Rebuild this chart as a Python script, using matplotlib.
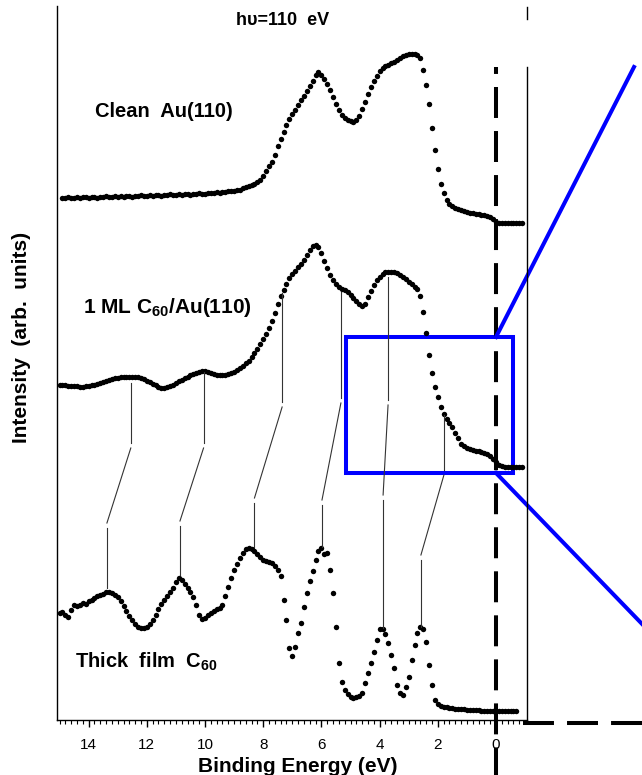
import numpy as np
import matplotlib
matplotlib.use("Agg")
import matplotlib.pyplot as plt
from matplotlib.patches import Rectangle
from matplotlib.ticker import MultipleLocator

plt.rcParams["font.family"] = ["Liberation Sans", "DejaVu Sans"]
plt.rcParams["mathtext.fontset"] = "custom"
plt.rcParams["mathtext.rm"] = "Liberation Sans:bold"
plt.rcParams["mathtext.it"] = "Liberation Sans:bold"
plt.rcParams["mathtext.bf"] = "Liberation Sans:bold"
plt.rcParams["lines.scale_dashes"] = False

# valence band spectra, one point every 0.1 eV of binding energy
energy_clean = np.round(np.arange(14.9, -0.95, -0.1), 1)
energy_ml = np.round(np.arange(15.0, -0.95, -0.1), 1)
energy_thick = np.round(np.arange(15.0, -0.75, -0.1), 1)

intensity_clean = [
    522, 522, 523, 522, 522, 523, 522, 523, 523, 522,
    523, 523, 522, 523, 523, 524, 523, 523, 524, 523,
    524, 523, 524, 524, 523, 524, 524, 525, 524, 524,
    525, 524, 525, 525, 524, 525, 525, 526, 525, 525,
    526, 525, 526, 526, 525, 526, 526, 527, 526, 526,
    527, 527, 527, 528, 527, 528, 528, 529, 529, 529,
    530, 530, 532, 533, 534, 535, 536, 538, 540, 544,
    549, 554, 558, 565, 574, 581, 588, 595, 601, 606,
    610, 615, 620, 624, 629, 634, 639, 645, 648, 645,
    641, 636, 630, 623, 616, 610, 605, 602, 600, 599,
    598, 600, 604, 611, 618, 626, 633, 639, 644, 649,
    652, 654, 655, 657, 658, 660, 662, 664, 665, 666,
    666, 666, 665, 662, 650, 635, 616, 592, 570, 551,
    536, 527, 520, 516, 514, 512, 511, 510, 509, 508,
    507, 507, 506, 506, 505, 505, 504, 503, 501, 498,
    497, 497, 497, 497, 497, 497, 497, 497, 497,
]

intensity_ml = [
    335, 335, 335, 334, 334, 334, 334, 333, 333, 334,
    334, 335, 335, 336, 337, 338, 339, 340, 341, 342,
    342, 343, 343, 343, 343, 343, 343, 343, 342, 341,
    339, 338, 336, 335, 333, 332, 332, 333, 334, 335,
    337, 339, 340, 342, 343, 345, 346, 347, 348, 349,
    349, 348, 347, 346, 345, 345, 345, 345, 346, 347,
    348, 350, 352, 354, 357, 359, 363, 367, 371, 376,
    381, 386, 392, 399, 407, 416, 424, 430, 436, 442,
    446, 449, 453, 456, 460, 465, 470, 474, 475, 473,
    467, 459, 452, 445, 440, 436, 433, 431, 430, 428,
    425, 422, 419, 416, 414, 416, 423, 429, 435, 440,
    443, 446, 448, 448, 448, 448, 447, 445, 443, 441,
    438, 436, 433, 431, 424, 408, 387, 365, 347, 333,
    323, 313, 306, 301, 297, 293, 287, 282, 276, 274,
    272, 271, 270, 269, 269, 268, 267, 266, 264, 261,
    258, 255, 254, 253, 253, 253, 253, 253, 253, 253,
]

intensity_thick = [
    107, 108, 105, 103, 110, 115, 114, 115, 117, 116,
    119, 120, 122, 124, 125, 126, 128, 128, 127, 125,
    123, 119, 114, 109, 104, 100, 96, 93, 92, 92,
    93, 96, 100, 105, 111, 116, 120, 124, 128, 132,
    138, 142, 140, 136, 132, 128, 123, 115, 105, 101,
    102, 105, 107, 109, 111, 112, 115, 124, 133, 142,
    150, 156, 162, 167, 171, 172, 171, 169, 166, 163,
    160, 159, 158, 157, 154, 150, 144, 120, 100, 72,
    64, 73, 87, 97, 113, 127, 139, 149, 160, 169,
    172, 166, 167, 150, 127, 93, 57, 38, 30, 26,
    23, 22, 23, 24, 27, 37, 47, 57, 68, 80,
    91, 91, 86, 77, 65, 52, 35, 27, 25, 33,
    43, 60, 75, 87, 93, 91, 78, 55, 35, 20,
    16, 14, 13, 13, 12, 12, 11, 11, 11, 11,
    10, 10, 10, 10, 10, 9, 9, 9, 9, 9,
    9, 9, 9, 9, 9, 9, 9, 9,
]

# peak correlation lines between the monolayer and the thick film
link_ml_energy = [12.55, 10.05, 7.35, 5.33, 3.71, 1.79]
link_thick_energy = [13.37, 10.86, 8.30, 5.98, 3.88, 2.58]
link_ml_top = [337, 348, 427, 428, 443, 305]
link_ml_end = [277, 277, 318, 322, 320, 250]
link_thick_start = [197, 199, 222, 220, 225, 165]
link_thick_end = [132, 145, 173, 173, 92, 93]

fig = plt.figure(figsize=(6.42, 7.75), dpi=100)
ax = fig.add_axes([57 / 642, 55 / 775, 470 / 642, 714 / 775])
ax.set_xlim(15.086, -1.065)
ax.set_ylim(0, 714)

dot = dict(linestyle="none", marker="o", markersize=3.9, markeredgewidth=0, color="black")
ax.plot(energy_clean, intensity_clean, **dot)
ax.plot(energy_ml, intensity_ml, **dot)
ax.plot(energy_thick, intensity_thick, **dot)

gap = 5
link = dict(color="#333333", linewidth=0.8)
for e_ml, e_th, top, end, start, bottom in zip(link_ml_energy, link_thick_energy, link_ml_top,
                                               link_ml_end, link_thick_start, link_thick_end):
    ax.plot([e_ml, e_ml], [top, end], **link)
    ax.plot([e_ml, e_th], [end - gap, start], **link)
    ax.plot([e_th, e_th], [start - gap, bottom], **link)

# Fermi level marker and the frame of the enlarged region
ax.plot([0, 0], [653, -55], color="black", linewidth=2.9, clip_on=False,
        linestyle=(17.3, (22.3, 9.4)), solid_capstyle="butt", dash_capstyle="butt")
ax.plot([-0.93, -5.05], [-3, -3], color="black", linewidth=2.9, clip_on=False,
        linestyle=(0, (22.3, 9.4)), dash_capstyle="butt")

ax.add_patch(Rectangle((-0.58, 247), 5.73, 136, fill=False, edgecolor="#0000ff",
                       linewidth=2.9, joinstyle="miter", clip_on=False))
ax.plot([0, -4.742], [383, 653], color="#0000ff", linewidth=2.9, clip_on=False)
ax.plot([0, -5.02], [247, 96], color="#0000ff", linewidth=2.9, clip_on=False)

ax.text(13.78, 603, "Clean  Au(110)", fontsize=14.5, fontweight="bold", va="baseline")
ax.text(14.19, 407, r"1 ML C$_{60}$/Au(110)", fontsize=15, fontweight="bold", va="baseline")
ax.text(14.47, 52, r"Thick  film  C$_{60}$", fontsize=14.5, fontweight="bold", va="baseline")
ax.text(7.34, 695, "hυ=110  eV", fontsize=13, fontweight="bold", ha="center", va="baseline")

ax.spines["top"].set_visible(False)
ax.spines["right"].set_bounds(0, 653)
for side in ["left", "right", "bottom"]:
    ax.spines[side].set_linewidth(1.0)
ax.plot([-1.065, -1.065], [701, 713], color="black", linewidth=1.0, clip_on=False)

ax.set_yticks([])
ax.xaxis.set_major_locator(MultipleLocator(2))
ax.xaxis.set_minor_locator(MultipleLocator(0.2))
ax.tick_params(axis="x", which="major", direction="out", length=5, width=1.0, pad=8, labelsize=11)
ax.tick_params(axis="x", which="minor", direction="out", length=2.8, width=0.8)
ax.set_xticks([14, 12, 10, 8, 6, 4, 2, 0])

fig.text(298 / 642, 1 - 766 / 775, "Binding Energy (eV)", fontsize=15, fontweight="bold",
         ha="center", va="center")
fig.text(22 / 642, 1 - 337 / 775, "Intensity  (arb.  units)", fontsize=15, fontweight="bold",
         ha="center", va="center", rotation=90)

fig.savefig("out.png", dpi=100)
